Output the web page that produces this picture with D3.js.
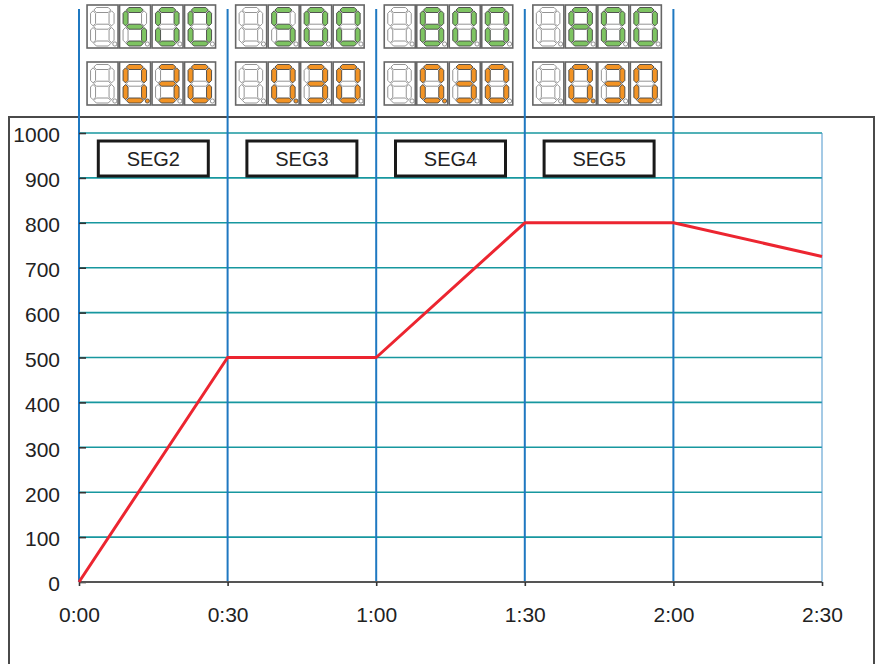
<!DOCTYPE html>
<html>
<head>
<meta charset="utf-8">
<script src="https://cdn.jsdelivr.net/npm/d3@7"></script>
<style>
  html, body { margin: 0; padding: 0; background: #fff; }
  svg { display: block; font-family: "Liberation Sans", Arial, sans-serif; }
</style>
</head>
<body>
<svg id="chart" width="880" height="664"></svg>
<script>
// Program profile: time (min) vs temperature.
var minutes    = [0, 30, 60, 90, 120, 150];
var temps      = [0, 500, 500, 800, 800, 725];
var timeLabels = ["0:00", "0:30", "1:00", "1:30", "2:00", "2:30"];
var tempTicks  = [0, 100, 200, 300, 400, 500, 600, 700, 800, 900, 1000];

// Segments shown on the controller displays.
var segNames   = ["SEG2", "SEG3", "SEG4", "SEG5"];
var segStart   = [0, 30, 60, 90];
var segEnd     = [30, 60, 90, 120];
var segTargets = [" 500", " 500", " 800", " 800"];  // green row
var segTimes   = [" 030", " 030", " 030", " 030"];  // orange row, dot after 2nd digit

var svg = d3.select("#chart");

var x = d3.scaleLinear().domain([0, 150]).range([79, 822]);
var y = d3.scaleLinear().domain([0, 1000]).range([582, 133]);

// Outer frame.
svg.append("rect")
   .attr("x", 9).attr("y", 117)
   .attr("width", 865).attr("height", 560)
   .attr("fill", "none")
   .attr("stroke", "#4a4a4a")
   .attr("stroke-width", 2);

// Horizontal grid lines.
svg.append("g")
   .selectAll("line")
   .data(tempTicks.slice(1))
   .enter().append("line")
   .attr("x1", x(0)).attr("x2", x(150))
   .attr("y1", function(d) { return y(d); })
   .attr("y2", function(d) { return y(d); })
   .attr("stroke", "#17979f")
   .attr("stroke-width", 1.6);

// Right edge of the plot.
svg.append("line")
   .attr("x1", x(150)).attr("x2", x(150))
   .attr("y1", y(1000)).attr("y2", y(0))
   .attr("stroke", "#4a95cc")
   .attr("stroke-width", 1);

// Segment dividers, running up through the displays.
svg.append("g")
   .selectAll("line")
   .data(minutes.slice(0, 5))
   .enter().append("line")
   .attr("x1", function(d) { return x(d); })
   .attr("x2", function(d) { return x(d); })
   .attr("y1", 9).attr("y2", y(0))
   .attr("stroke", "#1f78c1")
   .attr("stroke-width", 2);

// Y axis: labels on the left, small ticks pointing in.
var yAxis = d3.axisLeft(y)
  .tickValues(tempTicks)
  .tickFormat(d3.format("d"))
  .tickSize(-7)
  .tickPadding(19);

var gy = svg.append("g")
  .attr("transform", "translate(" + x(0) + ",0)")
  .call(yAxis);
gy.select(".domain").remove();
gy.selectAll(".tick line").attr("stroke", "#333").attr("stroke-width", 1.6);
gy.selectAll(".tick text")
  .attr("fill", "#222")
  .attr("dy", "0.42em")
  .style("font-size", "21px");

// X axis.
var xAxis = d3.axisBottom(x)
  .tickValues(minutes)
  .tickFormat(function(d, i) { return timeLabels[i]; })
  .tickSize(4)
  .tickPadding(21);

var gx = svg.append("g")
  .attr("transform", "translate(0," + y(0) + ")")
  .call(xAxis);
gx.select(".domain")
  .attr("stroke", "#555")
  .attr("stroke-width", 2)
  .attr("d", "M" + x(0) + ",0H" + x(150));
gx.selectAll(".tick line").attr("stroke", "#333").attr("stroke-width", 1.6);
gx.selectAll(".tick text")
  .attr("fill", "#222")
  .style("font-size", "21px");

// Profile line.
var line = d3.line()
  .x(function(d) { return x(d[0]); })
  .y(function(d) { return y(d[1]); });

svg.append("path")
   .datum(d3.zip(minutes, temps))
   .attr("d", line)
   .attr("fill", "none")
   .attr("stroke", "#ec2530")
   .attr("stroke-width", 3)
   .attr("stroke-linejoin", "round");

// Segment label boxes.
var segG = svg.append("g")
  .selectAll("g")
  .data(segNames)
  .enter().append("g")
  .attr("transform", function(d, i) {
    var cx = (x(segStart[i]) + x(segEnd[i])) / 2;
    return "translate(" + cx + "," + 158.5 + ")";
  });

segG.append("rect")
  .attr("x", -55).attr("y", -17.5)
  .attr("width", 110).attr("height", 35)
  .attr("fill", "#fff")
  .attr("stroke", "#1a1a1a")
  .attr("stroke-width", 3);

segG.append("text")
  .attr("text-anchor", "middle")
  .attr("dy", "0.36em")
  .attr("fill", "#222")
  .style("font-size", "20px")
  .text(function(d) { return d; });

// Seven-segment displays.
var DIGIT_SEGS = {
  "0": "abcdef", "1": "bc", "2": "abdeg", "3": "abcdg", "4": "bcfg",
  "5": "acdfg", "6": "acdefg", "7": "abc", "8": "abcdefg", "9": "abcdfg",
  " ": ""
};

var DW = 31, DH = 43, DGAP = 1.5;

function hSeg(x1, x2, yc, t) {
  return [[x1, yc], [x1 + t / 2, yc - t / 2], [x2 - t / 2, yc - t / 2],
          [x2, yc], [x2 - t / 2, yc + t / 2], [x1 + t / 2, yc + t / 2]];
}
function vSeg(xc, y1, y2, t) {
  return [[xc, y1], [xc + t / 2, y1 + t / 2], [xc + t / 2, y2 - t / 2],
          [xc, y2], [xc - t / 2, y2 - t / 2], [xc - t / 2, y1 + t / 2]];
}

function segShapes() {
  var l = 6, r = 24.5, t = 5, top = 5, bot = 38.5, mid = 21.7;
  return {
    a: hSeg(l + 0.8, r - 0.8, top, t),
    b: vSeg(r, top + 0.8, mid - 0.8, t),
    c: vSeg(r, mid + 0.8, bot - 0.8, t),
    d: hSeg(l + 0.8, r - 0.8, bot, t),
    e: vSeg(l, mid + 0.8, bot - 0.8, t),
    f: vSeg(l, top + 0.8, mid - 0.8, t),
    g: hSeg(l + 0.8, r - 0.8, mid, t)
  };
}
var SHAPES = segShapes();

function drawDisplay(g, str, litColor, dotIndex) {
  var digits = g.selectAll("g.digit")
    .data(str.split(""))
    .enter().append("g")
    .attr("class", "digit")
    .attr("transform", function(d, i) { return "translate(" + i * (DW + DGAP) + ",0)"; });

  digits.append("rect")
    .attr("width", DW).attr("height", DH)
    .attr("fill", "#fff")
    .attr("stroke", "#666")
    .attr("stroke-width", 1.6);

  digits.each(function(ch) {
    var on = DIGIT_SEGS[ch] || "";
    d3.select(this).selectAll("polygon")
      .data("abcdefg".split(""))
      .enter().append("polygon")
      .attr("points", function(s) { return SHAPES[s].join(" "); })
      .attr("fill", function(s) { return on.indexOf(s) >= 0 ? litColor : "#fff"; })
      .attr("stroke", function(s) { return on.indexOf(s) >= 0 ? "#444" : "#888"; })
      .attr("stroke-width", 0.9);
  });

  digits.append("circle")
    .attr("cx", 27.8).attr("cy", 39).attr("r", 2.1)
    .attr("fill", function(d, i) { return i === dotIndex ? litColor : "#fff"; })
    .attr("stroke", function(d, i) { return i === dotIndex ? "#444" : "#777"; })
    .attr("stroke-width", 0.8);
}

var dispW = 4 * DW + 3 * DGAP;
segNames.forEach(function(name, i) {
  var cx = (x(segStart[i]) + x(segEnd[i])) / 2 - 2;
  var gTop = svg.append("g")
    .attr("transform", "translate(" + (cx - dispW / 2) + ",5)");
  drawDisplay(gTop, segTargets[i], "#7ec462", -1);

  var gBot = svg.append("g")
    .attr("transform", "translate(" + (cx - dispW / 2) + ",62)");
  drawDisplay(gBot, segTimes[i], "#f29324", 1);
});
</script>
</body>
</html>
